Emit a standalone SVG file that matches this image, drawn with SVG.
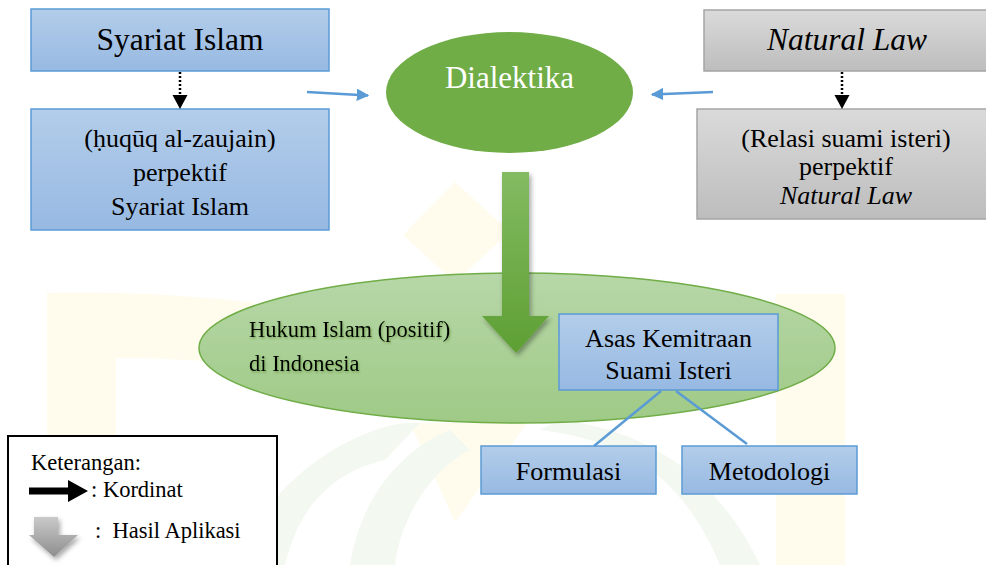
<svg xmlns="http://www.w3.org/2000/svg" width="986" height="565" viewBox="0 0 986 565">
<defs>
<linearGradient id="gBlue" x1="0" y1="0" x2="0" y2="1"><stop offset="0" stop-color="#b3cdea"/><stop offset="1" stop-color="#97b9e2"/></linearGradient>
<linearGradient id="gGray" x1="0" y1="0" x2="0" y2="1"><stop offset="0" stop-color="#dadada"/><stop offset="1" stop-color="#bdbdbd"/></linearGradient>
<linearGradient id="gEll" x1="0" y1="0" x2="0" y2="1"><stop offset="0" stop-color="#b7d7a8"/><stop offset="1" stop-color="#9fca86"/></linearGradient>
<linearGradient id="gArrow" x1="0" y1="0" x2="0" y2="1"><stop offset="0" stop-color="#83bb62"/><stop offset="1" stop-color="#5e9f33"/></linearGradient>
<linearGradient id="gGrayArrow" x1="0" y1="0" x2="0" y2="1"><stop offset="0" stop-color="#c9c9c9"/><stop offset="1" stop-color="#8e8e8e"/></linearGradient>
<filter id="shadow" x="-30%" y="-30%" width="160%" height="160%"><feDropShadow dx="2" dy="3" stdDeviation="2.5" flood-color="#000" flood-opacity="0.35"/></filter>
<filter id="tshadow" x="-10%" y="-20%" width="120%" height="150%"><feDropShadow dx="1" dy="1.5" stdDeviation="1" flood-color="#3a6b1f" flood-opacity="0.45"/></filter>
<marker id="mBlue" viewBox="0 0 10 10" refX="9" refY="5" markerWidth="5" markerHeight="5" orient="auto"><path d="M0,0 L10,5 L0,10 z" fill="#5b9bd5"/></marker>
</defs>
<style>
.blue{fill:url(#gBlue);stroke:#5b9bd5;stroke-width:1.5}
.gray{fill:url(#gGray);stroke:#a5a5a5;stroke-width:1.5}
.dot{stroke:#000;stroke-width:2.5;stroke-dasharray:2 2;fill:none}
.head{fill:#000}
.conn{stroke:#5b9bd5;stroke-width:2.5;fill:none}
</style>
<rect width="986" height="565" fill="#fff"/>
<g id="watermark">
<path d="M47,293 C120,291 200,296 255,303 L240,364 C200,360 150,358 116,358 L116,565 L47,565 Z" fill="#fffcee"/>
<rect x="776" y="294" width="69" height="271" fill="#fffcee"/>
<path d="M455,182 L510,232 L455,282 L403,235 Z" fill="#fffcee"/>
<path d="M410,423 L527,423 L455,522 Z" fill="#fffcee"/>
<path d="M280,493 C320,450 380,420 420,423 L385,460 C340,470 300,500 285,565 L250,565 Z" fill="#f3f8f1"/>
<path d="M350,565 C360,500 400,450 450,430 L470,450 C430,470 400,520 395,565 Z" fill="#f3f8f1"/>
<path d="M540,430 C620,440 680,470 720,565 L760,565 C720,480 650,430 560,420 Z" fill="#f3f8f1"/>
</g>
<g font-family="Liberation Serif, Times New Roman, serif" fill="#000">
<g id="syariat">
<rect x="31" y="9" width="298" height="62" class="blue"/>
<text x="180" y="50" text-anchor="middle" font-size="31.5">Syariat Islam</text>
</g>
<g id="huquq">
<rect x="31" y="109" width="298" height="121" class="blue"/>
<text x="180" y="147" text-anchor="middle" font-size="26">(ḥuqūq al-zaujain)</text>
<text x="180" y="181" text-anchor="middle" font-size="26">perpektif</text>
<text x="180" y="215" text-anchor="middle" font-size="26">Syariat Islam</text>
</g>
<g id="natural">
<rect x="704" y="10" width="290" height="61" class="gray"/>
<text x="847" y="50" text-anchor="middle" font-size="31.5" font-style="italic">Natural Law</text>
</g>
<g id="relasi">
<rect x="697" y="109" width="297" height="110" class="gray"/>
<text x="846" y="147" text-anchor="middle" font-size="26">(Relasi suami isteri)</text>
<text x="846" y="175" text-anchor="middle" font-size="26">perpektif</text>
<text x="846" y="204" text-anchor="middle" font-size="26" font-style="italic">Natural Law</text>
</g>
<g id="dialektika">
<ellipse cx="509.5" cy="92.5" rx="123.5" ry="60.5" fill="#70ad47"/>
<text x="509.5" y="88" text-anchor="middle" font-size="31" fill="#fff">Dialektika</text>
</g>
<g id="hukum">
<ellipse cx="517" cy="348" rx="318" ry="75" fill="url(#gEll)" stroke="#70ad47" stroke-width="1.5"/>
<g filter="url(#tshadow)">
<text x="249" y="337" font-size="22.5">Hukum Islam (positif)</text>
<text x="249" y="371" font-size="22.5">di Indonesia</text>
</g>
</g>
<g id="hasil-arrow">
<path d="M502,172 L529,172 L529,316 L549,316 L516,353 L482,316 L502,316 Z" fill="url(#gArrow)" filter="url(#shadow)"/>
</g>
<g id="asas">
<rect x="559" y="314" width="219" height="76" class="blue"/>
<text x="668.5" y="347" text-anchor="middle" font-size="26">Asas Kemitraan</text>
<text x="668.5" y="379" text-anchor="middle" font-size="26">Suami Isteri</text>
</g>
<g id="formulasi">
<rect x="481" y="446" width="175" height="48" class="blue"/>
<text x="568.5" y="480" text-anchor="middle" font-size="26">Formulasi</text>
</g>
<g id="metodologi">
<rect x="682" y="446" width="175" height="48" class="blue"/>
<text x="769.5" y="480" text-anchor="middle" font-size="26">Metodologi</text>
</g>
<g id="legend">
<rect x="8" y="436" width="269" height="140" fill="#fff" stroke="#000" stroke-width="2"/>
<text x="31" y="470" font-size="22.5">Keterangan:</text>
<path d="M29,487.5 L68,487.5 L68,480 L88,491 L68,502 L68,494.5 L29,494.5 Z" fill="#000"/>
<text x="91" y="497" font-size="22.5">: Kordinat</text>
<path d="M34,517 L58,517 L58,535 L78,535 L54,557 L29,535 L34,535 Z" fill="url(#gGrayArrow)" filter="url(#shadow)"/>
<text x="95" y="538" font-size="22.5" xml:space="preserve">:  Hasil Aplikasi</text>
</g>
</g>
<g id="connectors">
<line x1="180" y1="72" x2="180" y2="96" class="dot"/>
<path d="M172.5,95 L187.5,95 L180,109 Z" class="head"/>
<line x1="842" y1="72" x2="842" y2="96" class="dot"/>
<path d="M834.5,95 L849.5,95 L842,109 Z" class="head"/>
<line x1="307" y1="92" x2="368" y2="95.5" class="conn" stroke-width="2.2" marker-end="url(#mBlue)"/>
<line x1="713" y1="92" x2="652" y2="94.5" class="conn" stroke-width="2.2" marker-end="url(#mBlue)"/>
<line x1="661" y1="391" x2="594" y2="446" class="conn" stroke-width="3"/>
<line x1="676" y1="391" x2="747" y2="444" class="conn" stroke-width="3"/>
</g>
</svg>
